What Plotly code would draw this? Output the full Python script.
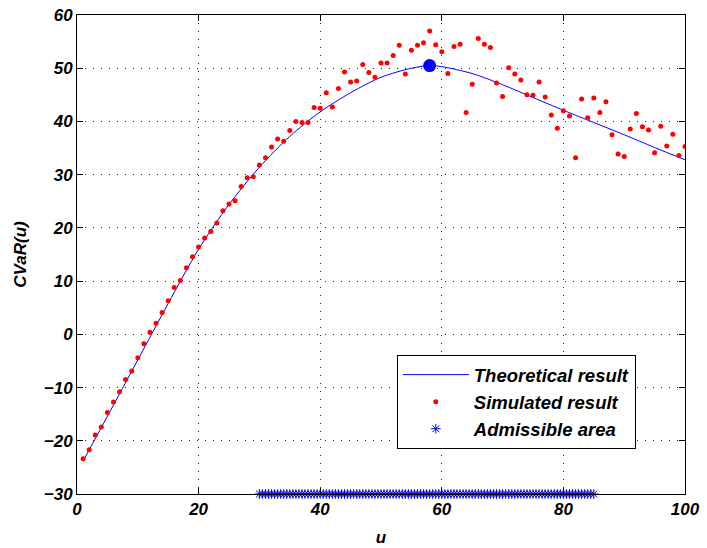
import plotly.graph_objects as go
import numpy as np

# Theoretical curve (read at anchor points)
theo_u = [1, 5, 10, 15, 20, 25, 30, 35, 40, 45, 50, 55, 58, 60, 65, 70, 75, 80, 85, 90, 95, 100]
theo_v = [-23.8, -15.4, -4.8, 5.8, 16.0, 24.4, 31.4, 37.2, 41.8, 45.4, 48.3, 50.0, 50.5, 50.3,
          49.0, 46.9, 44.5, 42.1, 39.8, 37.5, 35.1, 32.8]

# Simulated results for u = 1..100
sim_u = list(range(1, 101))
sim_v = [-23.4, -21.7, -18.9, -17.4, -14.7, -12.7, -10.8, -8.5, -6.9, -4.4,
         -1.75, 0.4, 2.1, 4.1, 6.3, 8.8, 10.1, 12.5, 14.6, 16.4,
         18.1, 19.3, 20.9, 23.2, 24.5, 25.1, 27.8, 29.4, 29.6, 31.8,
         33.2, 35.2, 36.7, 36.3, 38.3, 40.0, 39.8, 39.8, 42.6, 42.5,
         45.4, 42.7, 46.2, 49.3, 47.4, 47.6, 50.7, 49.2, 48.3, 51.0,
         51.0, 52.4, 54.3, 48.9, 53.4, 54.3, 54.8, 57.0, 54.4, 53.1,
         49.0, 54.1, 54.5, 41.7, 47.0, 55.6, 54.5, 53.9, 47.2, 44.7,
         50.1, 48.9, 47.8, 45.0, 44.9, 47.4, 44.6, 41.2, 38.7, 42.0,
         41.0, 33.2, 44.2, 40.7, 44.4, 41.7, 43.7, 37.5, 33.9, 33.4,
         38.6, 41.5, 39.0, 38.4, 34.1, 39.1, 35.4, 37.6, 33.6, 35.3]

# Optimum
opt_u = [58]
opt_v = [50.5]

# Admissible area
adm_start, adm_end, adm_step = 30, 85, 0.5
adm_level = -30
adm_u = np.arange(adm_start, adm_end + adm_step / 2, adm_step)
adm_v = [adm_level] * len(adm_u)

x_ticks = [0, 20, 40, 60, 80, 100]
y_ticks = [-30, -20, -10, 0, 10, 20, 30, 40, 50, 60]

FONT = dict(family="Liberation Sans, Arial, sans-serif", size=17, color="black",
            weight="bold", style="italic")

fig = go.Figure()
fig.add_trace(go.Scatter(x=theo_u, y=theo_v, mode="lines", name="Theoretical result",
                         line=dict(color="#0000ff", width=1, shape="spline", smoothing=0.8)))
fig.add_trace(go.Scatter(x=sim_u, y=sim_v, mode="markers", name="Simulated result",
                         marker=dict(color="#ff0000", size=5)))
fig.add_trace(go.Scatter(x=adm_u, y=adm_v, mode="markers", name="Admissible area",
                         cliponaxis=False,
                         marker=dict(symbol="asterisk-open", size=8, color="#0000ff",
                                     line=dict(color="#0000ff", width=1))))
fig.add_trace(go.Scatter(x=opt_u, y=opt_v, mode="markers", showlegend=False,
                         marker=dict(color="#0000ff", size=13)))

axis_common = dict(showline=True, linecolor="black", linewidth=1, mirror="ticks",
                   ticks="inside", ticklen=6, tickcolor="black",
                   showgrid=True, gridcolor="#222222", griddash="1px,7px", gridwidth=1,
                   zeroline=False, tickfont=FONT)

fig.update_xaxes(range=[0, 100], tickvals=x_ticks,
                 title=dict(text="u", font=FONT, standoff=12), **axis_common)
fig.update_yaxes(range=[-30, 60], tickvals=y_ticks,
                 title=dict(text="CVaR(u)", font=FONT, standoff=12), **axis_common)

fig.update_layout(
    width=707, height=548,
    margin=dict(l=77, r=22, t=15, b=54, autoexpand=False),
    plot_bgcolor="white", paper_bgcolor="white",
    font=FONT,
    legend=dict(x=0.526, y=0.29, xanchor="left", yanchor="top",
                bgcolor="white", bordercolor="black", borderwidth=1,
                font=dict(family="Liberation Sans, Arial, sans-serif", size=18.5,
                          color="black", weight="bold", style="italic"),
                itemwidth=66, tracegroupgap=0),
)

fig.write_html("out.html")
